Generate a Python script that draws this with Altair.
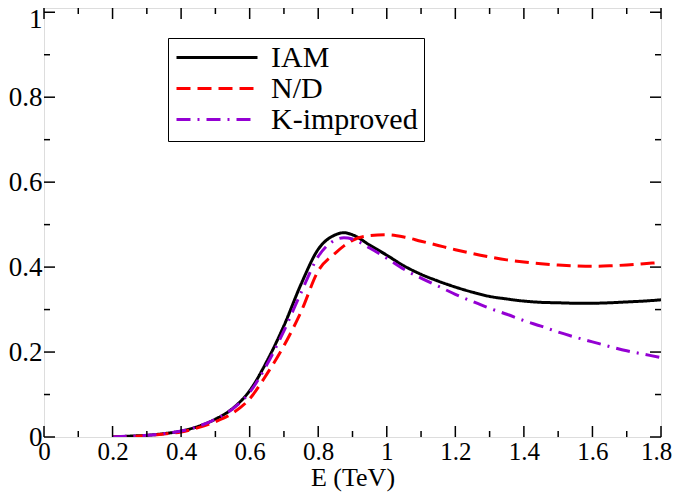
import altair as alt
import pandas as pd

# ---- data ----
energy = [0.2, 0.25, 0.3, 0.35, 0.4, 0.45, 0.5, 0.55, 0.6, 0.65, 0.7, 0.75, 0.8,
          0.85, 0.875, 0.9, 0.95, 1.0, 1.05, 1.1, 1.15, 1.2, 1.25, 1.3, 1.35, 1.4,
          1.45, 1.5, 1.55, 1.6, 1.65, 1.7, 1.75, 1.8]

iam = [0.0, 0.002, 0.004, 0.008, 0.014, 0.025, 0.042, 0.067, 0.109, 0.178, 0.262,
       0.36, 0.442, 0.476, 0.481, 0.476, 0.452, 0.428, 0.403, 0.383, 0.367, 0.353,
       0.341, 0.331, 0.325, 0.320, 0.317, 0.316, 0.315, 0.315, 0.316, 0.318, 0.320,
       0.323]

nd = [0.0, 0.001, 0.003, 0.007, 0.012, 0.022, 0.036, 0.056, 0.09, 0.148, 0.215,
      0.295, 0.391, 0.433, 0.45, 0.463, 0.474, 0.476, 0.471, 0.461, 0.451, 0.441,
      0.432, 0.424, 0.417, 0.412, 0.408, 0.405, 0.403, 0.402, 0.403, 0.405, 0.408,
      0.411]

kimp = [0.0, 0.002, 0.004, 0.008, 0.014, 0.025, 0.042, 0.066, 0.105, 0.17, 0.25,
        0.34, 0.425, 0.464, 0.469, 0.466, 0.445, 0.421, 0.395, 0.374, 0.355, 0.336,
        0.319, 0.303, 0.289, 0.274, 0.261, 0.247, 0.235, 0.224, 0.213, 0.203, 0.195,
        0.187]

series_names = ["IAM", "N/D", "K-improved"]
series_colors = ["#000000", "#ff0000", "#9400d3"]
series_dashes = [[1, 0], [14, 7], [14, 7, 2, 7]]

x_major = [0.0, 0.2, 0.4, 0.6, 0.8, 1.0, 1.2, 1.4, 1.6, 1.8]
x_minor = [0.1, 0.3, 0.5, 0.7, 0.9, 1.1, 1.3, 1.5, 1.7]
y_major = [0.0, 0.2, 0.4, 0.6, 0.8, 1.0]
y_minor = [0.1, 0.3, 0.5, 0.7, 0.9]

# ---- build tables ----
rows = []
for name, vals in zip(series_names, [iam, nd, kimp]):
    for i, (e, v) in enumerate(zip(energy, vals)):
        rows.append({"E": e, "val": v, "series": name, "idx": i})
df = pd.DataFrame(rows)

W, H = 617, 429
FONT = "Liberation Serif"
xscale = alt.Scale(domain=[0, 1.8], nice=False, zero=False)
yscale = alt.Scale(domain=[0, 1.01], nice=False, zero=False)

xaxis = alt.Axis(values=x_major, format=".1~f", title="E (TeV)",
                 ticks=False, tickSize=0, domain=False, grid=False,
                 labelFont=FONT, labelFontSize=25, labelColor="black",
                 labelPadding=2, titleFont=FONT, titleFontSize=26,
                 titleFontWeight="normal", titleColor="black",
                 titlePadding=0, labelFlush=False,
                 labelOffset={"condition": {"test": "datum.value >= 1.75",
                                            "value": -5},
                              "value": 0})
yaxis = alt.Axis(values=y_major, format=".1~f", title="",
                 ticks=False, tickSize=0, domain=False, grid=False,
                 labelFont=FONT, labelFontSize=27, labelColor="black",
                 labelPadding=2, labelFlush=False,
                 labelOffset={"condition": {"test": "datum.value >= 1",
                                            "value": 7},
                              "value": 0})

lines = alt.Chart(df).mark_line(strokeWidth=3, clip=True,
                                interpolate="monotone").encode(
    x=alt.X("E:Q", scale=xscale, axis=xaxis, title="E (TeV)"),
    y=alt.Y("val:Q", scale=yscale, axis=yaxis, title=""),
    color=alt.Color("series:N",
                    scale=alt.Scale(domain=series_names, range=series_colors),
                    legend=alt.Legend(title=None, orient="none", legendX=124,
                                      legendY=30, fillColor="white",
                                      strokeColor="black", padding=6,
                                      symbolType="stroke", symbolSize=6561,
                                      symbolOffset=1, clipHeight=27,
                                      symbolStrokeWidth=3, labelFont=FONT,
                                      labelFontSize=30, labelColor="black",
                                      labelOffset=12, rowPadding=0,
                                      labelLimit=400)),
    strokeDash=alt.StrokeDash("series:N",
                              scale=alt.Scale(domain=series_names,
                                              range=series_dashes),
                              legend=None),
    order="idx:Q",
)

def tick_layer(values, channel, length, side):
    d = pd.DataFrame({"t": values})
    base = alt.Chart(d).mark_rule(color="black", strokeWidth=1.5)
    if channel == "x":
        if side == "bottom":
            enc = dict(y=alt.value(H), y2=alt.value(H - length))
        else:
            enc = dict(y=alt.value(0), y2=alt.value(length))
        return base.encode(x=alt.X("t:Q", scale=xscale, axis=xaxis,
                                   title="E (TeV)"), **enc)
    else:
        if side == "left":
            enc = dict(x=alt.value(0), x2=alt.value(length))
        else:
            enc = dict(x=alt.value(W), x2=alt.value(W - length))
        return base.encode(y=alt.Y("t:Q", scale=yscale, axis=yaxis,
                                   title=""), **enc)

ticks = [
    tick_layer(x_major, "x", 11, "bottom"),
    tick_layer(x_minor, "x", 6, "bottom"),
    tick_layer(x_major, "x", 11, "top"),
    tick_layer(x_minor, "x", 6, "top"),
    tick_layer(y_major, "y", 11, "left"),
    tick_layer(y_minor, "y", 6, "left"),
    tick_layer(y_major, "y", 11, "right"),
    tick_layer(y_minor, "y", 6, "right"),
]

chart = alt.layer(lines, *ticks).properties(
    width=W, height=H,
    padding={"left": 36, "top": 0, "right": 12, "bottom": 55},
    autosize=alt.AutoSizeParams(type="none"),
).configure_view(stroke="black", strokeWidth=2).configure(background="white")

chart.save("out.html", embed_options={"renderer": "svg", "actions": False})
